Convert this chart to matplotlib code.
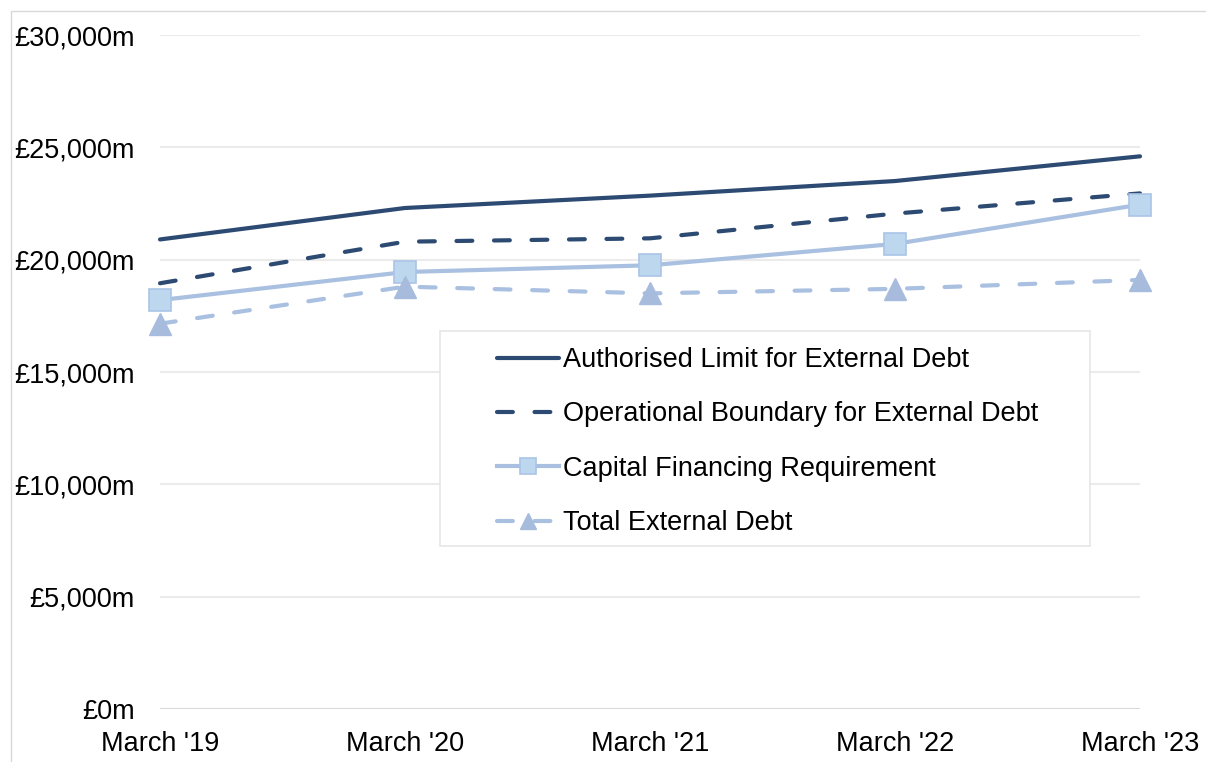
import matplotlib
matplotlib.use("Agg")
import matplotlib.pyplot as plt
from matplotlib.ticker import FuncFormatter
from matplotlib.patches import Rectangle

# values in £m
years = ["March '19", "March '20", "March '21", "March '22", "March '23"]
authorised_limit = [20900, 22300, 22850, 23500, 24600]
operational_boundary = [18950, 20800, 20950, 22050, 22950]
capital_financing = [18200, 19450, 19750, 20700, 22450]
total_external_debt = [17150, 18800, 18500, 18700, 19100]

NAVY = "#2C4A72"
LIGHT = "#A9C0E1"
SQ_FILL = "#BDD7EE"
SQ_EDGE = "#A9C4E6"
TRI = "#A7BCDD"
W, H = 1206, 762

plt.rcParams['font.family'] = ['Liberation Sans', 'DejaVu Sans']

fig = plt.figure(figsize=(W / 100, H / 100), dpi=100)
ax = fig.add_axes([160 / W, 1 - 709 / H, 980 / W, 674 / H])

# light border round the chart area
fig.patches.append(Rectangle((11 / W, -0.1), 1.2, 1 - 11 / H + 0.1, transform=fig.transFigure,
                             fill=False, edgecolor="#D9D9D9", linewidth=1.0))

x = list(range(len(years)))
dash = (3.8, 5.2)
ax.plot(x, authorised_limit, color=NAVY, lw=3.0, solid_capstyle="round",
        label="Authorised Limit for External Debt", zorder=3, clip_on=False)
ax.plot(x, operational_boundary, color=NAVY, lw=3.0, dashes=dash, dash_capstyle="round",
        label="Operational Boundary for External Debt", zorder=3, clip_on=False)
ax.plot(x, capital_financing, color=LIGHT, lw=3.0, marker="s", markersize=16,
        markerfacecolor=SQ_FILL, markeredgecolor=SQ_EDGE, markeredgewidth=1.2,
        label="Capital Financing Requirement", zorder=4, clip_on=False)
ax.plot(x, total_external_debt, color=LIGHT, lw=3.0, dashes=dash, dash_capstyle="round",
        marker="^", markersize=16, markerfacecolor=TRI, markeredgecolor=TRI,
        label="Total External Debt", zorder=4, clip_on=False)

ax.set_xlim(0, 4)
ax.set_ylim(0, 30000)
ax.set_yticks(range(0, 30001, 5000))
ax.yaxis.set_major_formatter(FuncFormatter(lambda v, pos: f"£{v:,.0f}m"))
ax.set_xticks(x)
ax.set_xticklabels(years)
ax.tick_params(axis="both", length=0, labelsize=19.5, colors="black")
ax.tick_params(axis="y", pad=18)
ax.tick_params(axis="x", pad=16)
ax.grid(axis="y", color="#EBEBEB", lw=1.5)
ax.set_axisbelow(True)
for s in ax.spines.values():
    s.set_visible(False)
ax.axhline(0, color="#D9D9D9", lw=1.5, zorder=1)

# legend frame drawn separately so the inner padding can match
fig.patches.append(Rectangle((440 / W, 1 - 546 / H), 650 / W, 215 / H, transform=fig.transFigure,
                             fill=True, facecolor="white", edgecolor="#E6E6E6", linewidth=1.2,
                             zorder=5))
leg = fig.legend(*ax.get_legend_handles_labels(), loc="upper left",
                 bbox_to_anchor=(497 / W, 1 - 347 / H),
                 fontsize=19.5, frameon=False,
                 handlelength=2.3, handletextpad=0.15, labelspacing=1.05,
                 borderpad=0, borderaxespad=0)
leg.set_zorder(6)
for h in leg.legend_handles:
    h.set_markersize(12)

fig.savefig("out.png", dpi=100)
